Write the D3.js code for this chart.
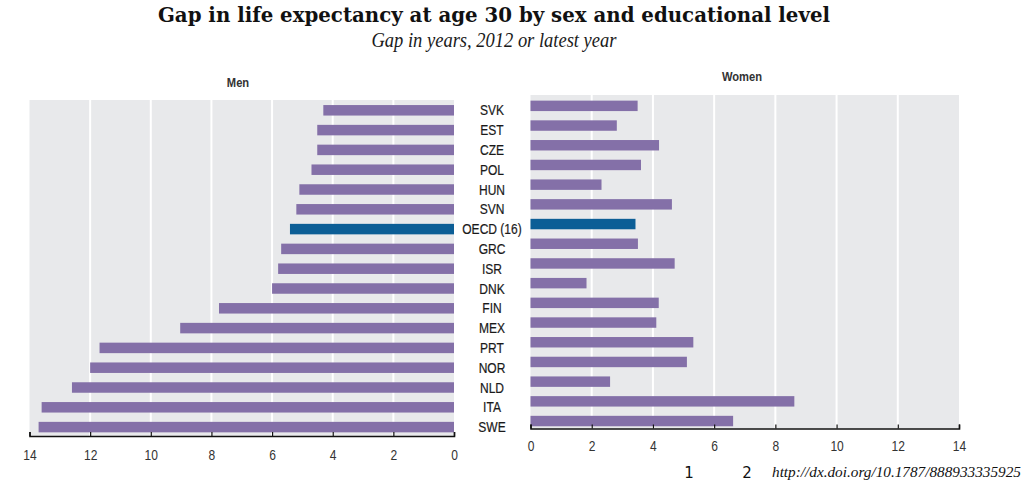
<!DOCTYPE html>
<html>
<head>
<meta charset="utf-8">
<script src="https://cdn.jsdelivr.net/npm/d3@7"></script>
<style>
  html, body { margin: 0; padding: 0; background: #fff; }
  svg { display: block; }
</style>
</head>
<body>
<svg id="chart" width="1024" height="485"></svg>
<script>
// ---- data ----
const countries = ["SVK","EST","CZE","POL","HUN","SVN","OECD (16)","GRC","ISR","DNK","FIN","MEX","PRT","NOR","NLD","ITA","SWE"];
const menGap   = [4.31, 4.51, 4.51, 4.70, 5.10, 5.20, 5.41, 5.70, 5.80, 6.00, 7.75, 9.03, 11.69, 12.0, 12.6, 13.6, 13.7];
const womenGap = [3.50, 2.82, 4.20, 3.61, 2.32, 4.62, 3.43, 3.51, 4.71, 1.83, 4.19, 4.11, 5.32, 5.11, 2.60, 8.62, 6.62];
const tickValues = [0, 2, 4, 6, 8, 10, 12, 14];
const highlight = "OECD (16)";

const titleText = "Gap in life expectancy at age 30 by sex and educational level";
const subtitleText = "Gap in years, 2012 or latest year";
const panelTitles = ["Men", "Women"];
const footNotes = ["1", "2"];
const doiText = "http://dx.doi.org/10.1787/888933335925";

// ---- style ----
const PURPLE = "#8470a8";
const BLUE = "#0c5e96";
const BG = "#e8e9eb";
const TXT = "#1a1a1a";
const SANS = "'Liberation Sans', Arial, sans-serif";
const SERIF = "'Liberation Serif', 'Times New Roman', serif";
const NARROW = 0.86;

const svg = d3.select("#chart");

function fitText(sel, targetWidth) {
  const node = sel.node();
  let fs = parseFloat(sel.attr("font-size"));
  const w = node.getComputedTextLength();
  if (w > 0) sel.attr("font-size", (fs * targetWidth / w).toFixed(2));
}
// horizontally condensed text placed at (x, y)
function narrowText(parent, x, y, sx) {
  return parent.append("text").attr("transform", `translate(${x},${y}) scale(${sx},1)`);
}

// Title
const title = svg.append("text")
  .attr("x", 494).attr("y", 22)
  .attr("text-anchor", "middle")
  .attr("font-family", "'DejaVu Serif', serif")
  .attr("font-weight", "bold")
  .attr("font-size", 20)
  .attr("fill", "#111")
  .text(titleText);
fitText(title, 672);

const sub = narrowText(svg, 494, 47, 0.85)
  .attr("text-anchor", "middle")
  .attr("font-family", SERIF)
  .attr("font-style", "italic")
  .attr("font-size", 17)
  .attr("fill", TXT)
  .text(subtitleText);
fitText(sub, 245 / 0.85);

// ---- Men panel ----
const xL = d3.scaleLinear().domain([0, 14]).range([454, 29.5]);
const yL = d3.scaleBand().domain(countries).range([100.4, 100.4 + 17 * 19.8])
  .paddingInner(0.47).paddingOuter(0.235);
const axisYL = 436;

const gL = svg.append("g");
gL.append("rect")
  .attr("x", xL(14)).attr("y", 100)
  .attr("width", xL(0) - xL(14)).attr("height", axisYL - 100)
  .attr("fill", BG);
gL.selectAll("line.grid").data(tickValues.filter(d => d > 0 && d < 14)).join("line")
  .attr("class", "grid")
  .attr("x1", d => xL(d)).attr("x2", d => xL(d))
  .attr("y1", 100).attr("y2", axisYL)
  .attr("stroke", "#fff").attr("stroke-width", 2);
gL.selectAll("rect.bar").data(countries).join("rect")
  .attr("class", "bar")
  .attr("x", (d, i) => xL(menGap[i]))
  .attr("y", d => yL(d))
  .attr("width", (d, i) => xL(0) - xL(menGap[i]))
  .attr("height", yL.bandwidth())
  .attr("fill", d => d === highlight ? BLUE : PURPLE);

const axL = svg.append("g")
  .attr("transform", `translate(0,${axisYL})`)
  .call(d3.axisBottom(xL).tickValues(tickValues).tickFormat(d3.format("d"))
    .tickSizeInner(-4).tickSizeOuter(-4).tickPadding(14));

narrowText(svg, 238, 87, NARROW)
  .attr("text-anchor", "middle")
  .attr("font-family", SANS).attr("font-weight", "bold")
  .attr("font-size", 13).attr("fill", "#333")
  .text(panelTitles[0]);

// ---- Women panel ----
const xR = d3.scaleLinear().domain([0, 14]).range([530.5, 959]);
const yR = d3.scaleBand().domain(countries).range([96, 96 + 17 * 19.7])
  .paddingInner(0.47).paddingOuter(0.235);
const axisYR = 428.5;

const gR = svg.append("g");
gR.append("rect")
  .attr("x", xR(0)).attr("y", 95)
  .attr("width", xR(14) - xR(0)).attr("height", axisYR - 95)
  .attr("fill", BG);
gR.selectAll("line.grid").data(tickValues.filter(d => d > 0 && d < 14)).join("line")
  .attr("class", "grid")
  .attr("x1", d => xR(d)).attr("x2", d => xR(d))
  .attr("y1", 95).attr("y2", axisYR)
  .attr("stroke", "#fff").attr("stroke-width", 2);
gR.selectAll("rect.bar").data(countries).join("rect")
  .attr("class", "bar")
  .attr("x", xR(0))
  .attr("y", d => yR(d))
  .attr("width", (d, i) => xR(womenGap[i]) - xR(0))
  .attr("height", yR.bandwidth())
  .attr("fill", d => d === highlight ? BLUE : PURPLE);

const axR = svg.append("g")
  .attr("transform", `translate(0,${axisYR})`)
  .call(d3.axisBottom(xR).tickValues(tickValues).tickFormat(d3.format("d"))
    .tickSizeInner(-4).tickSizeOuter(-4).tickPadding(13));

narrowText(svg, 742, 81, NARROW)
  .attr("text-anchor", "middle")
  .attr("font-family", SANS).attr("font-weight", "bold")
  .attr("font-size", 13).attr("fill", "#333")
  .text(panelTitles[1]);

// axis styling
[axL, axR].forEach(ax => {
  ax.select(".domain").attr("stroke", "#111").attr("stroke-width", 1.6);
  ax.selectAll(".tick line").attr("stroke", "#111").attr("stroke-width", 1.2);
  ax.selectAll(".tick text").attr("font-family", SANS).attr("font-size", 14)
    .attr("fill", "#333").attr("transform", `scale(${NARROW},1)`);
});

// ---- category labels (centre) ----
const catG = svg.append("g");
countries.forEach(c => {
  narrowText(catG, 492, yL(c) + yL.bandwidth() / 2, 0.86)
    .attr("dy", "0.36em")
    .attr("text-anchor", "middle")
    .attr("font-family", SANS)
    .attr("font-size", 14)
    .attr("fill", TXT)
    .attr("stroke", TXT).attr("stroke-width", 0.2)
    .text(c);
});

// ---- footnote ----
svg.append("text").attr("x", 689).attr("y", 478).attr("text-anchor", "middle")
  .attr("font-family", "'DejaVu Sans', sans-serif").attr("font-size", 15).attr("fill", "#111")
  .text(footNotes[0]);
svg.append("text").attr("x", 747).attr("y", 478).attr("text-anchor", "middle")
  .attr("font-family", "'DejaVu Sans', sans-serif").attr("font-size", 15).attr("fill", "#111")
  .text(footNotes[1]);
const doi = svg.append("text").attr("x", 772).attr("y", 477)
  .attr("font-family", SERIF).attr("font-style", "italic")
  .attr("font-size", 14).attr("fill", "#111")
  .text(doiText);
fitText(doi, 249);
</script>
</body>
</html>
